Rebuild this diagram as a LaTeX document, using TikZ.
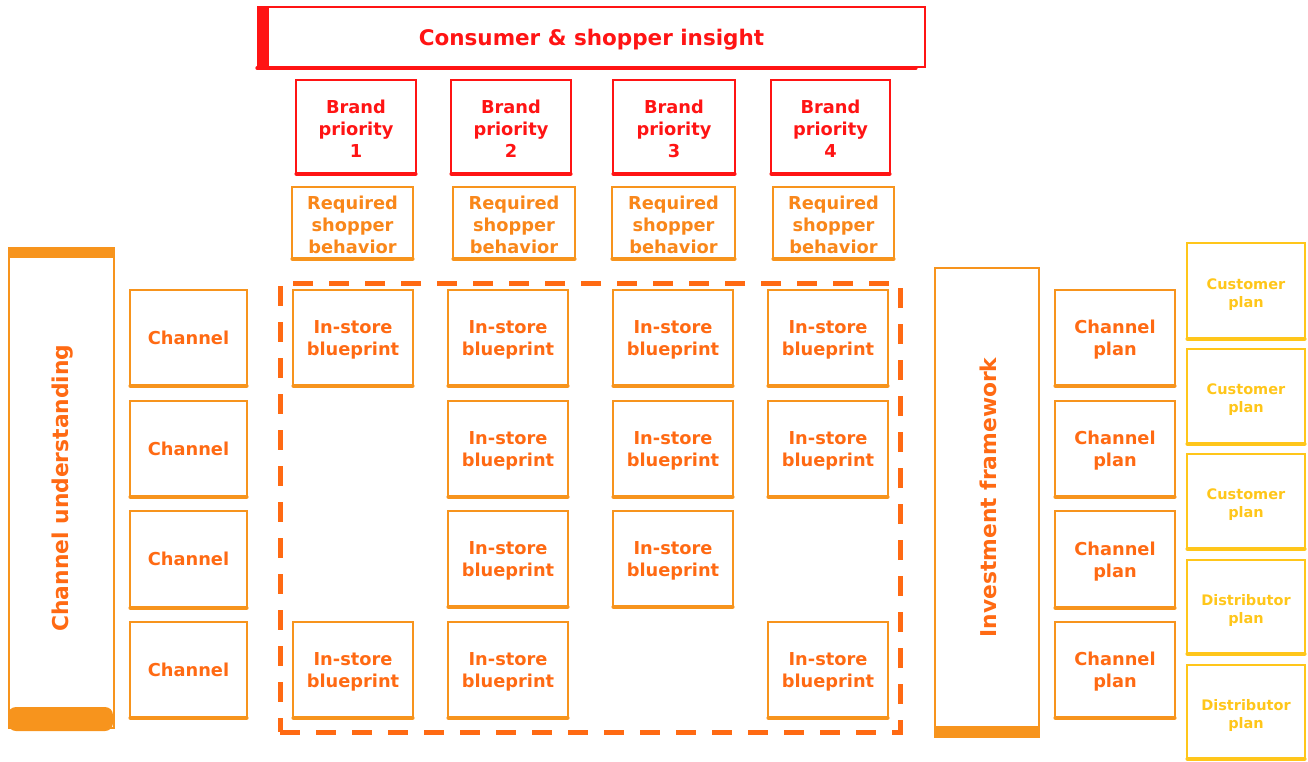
\documentclass[tikz,border=0pt]{standalone}
\usepackage{fontspec}
\setmainfont{DejaVu Sans}
\definecolor{myred}{HTML}{FF1414}
\definecolor{myorange}{HTML}{F7941D}
\definecolor{mytext}{HTML}{FF6A13}
\definecolor{mydash}{HTML}{FF6A13}
\definecolor{myyellow}{HTML}{FFC61A}
\tikzset{
  sbox/.style={draw, line width=1.6pt, inner sep=0pt, align=center,
    font=\bfseries\fontsize{17.8}{22}\selectfont},
  redbox/.style={sbox, draw=myred, text=myred},
  orbox/.style={sbox, draw=myorange, text=mytext},
  shbox/.style={sbox, draw=myorange, text=myorange!70!mytext},
  yebox/.style={sbox, draw=myyellow, text=myyellow, font=\bfseries\fontsize{14.5}{18}\selectfont},
  botline/.style={line width=3.5pt, line cap=round},
  bigtext/.style={font=\bfseries\fontsize{21.8}{26}\selectfont, text=mytext}
}
% name, style, colour, x1, y1, x2, y2, text, text shift
\newcommand\mybox[9]{%
  \node[#2, minimum width={(#6-#4)*1pt}, minimum height={(#7-#5)*1pt}] (#1) at ({(#4+#6)/2},{(#5+#7)/2}) {};
  \node[#2, draw=none] (#1t) at ([yshift=-#9pt]#1.center) {#8};
  \draw[botline, #3] ([xshift=1pt]#1.south west) -- ([xshift=-1pt]#1.south east);
}
\begin{document}
\begin{tikzpicture}[x=1pt,y=-1pt]
\useasboundingbox (0,0) rectangle (1308,762);

% top banner
\node[draw=myred, line width=1.8pt, minimum width=667pt, minimum height=60pt, inner sep=0pt] (insight) at (591.5,37) {};
\node[text=myred, font=\bfseries\fontsize{21.5}{26}\selectfont] (insightt) at ([yshift=-3pt]insight.center) {Consumer \& shopper insight};
\fill[myred] (insight.north west) rectangle ([xshift=12pt]insight.south west);
\draw[botline, myred] (insight.south west) -- ([xshift=-10pt]insight.south east);

% brand priorities and required shopper behaviour
\foreach \i/\xa/\xb in {1/296/416, 2/451/571, 3/613/735, 4/771/890}{
  \mybox{bp\i}{redbox}{myred}{\xa}{80}{\xb}{173}{Brand\\priority\\\i}{2.5}
}
\foreach \i/\xa/\xb in {1/292/413, 2/453/575, 3/612/735, 4/773/894}{
  \mybox{rs\i}{shbox}{myorange}{\xa}{187}{\xb}{258}{Required\\shopper\\behavior}{2.5}
}

% dashed frame
\node[draw=mydash, line width=5pt, dash pattern=on 20pt off 16pt, minimum width=620pt, minimum height=449pt, inner sep=0pt] (frame) at (590,507.5) {};

% channel understanding bar
\node[draw=myorange, line width=2pt, minimum width=105pt, minimum height=480pt, inner sep=0pt] (cu) at (61.5,488) {};
\fill[myorange] (cu.north west) rectangle ([yshift=-11pt]cu.north east);
\fill[myorange, rounded corners=8pt] ([yshift=22pt]cu.south west) rectangle ([xshift=-2pt,yshift=-2pt]cu.south east);
\node[bigtext, rotate=90] (cut) at ([xshift=1pt]cu.center) {Channel understanding};

% investment framework bar
\node[draw=myorange, line width=2pt, minimum width=104pt, minimum height=469pt, inner sep=0pt] (inv) at (987,502.5) {};
\fill[myorange] ([yshift=12pt]inv.south west) rectangle (inv.south east);
\node[bigtext, rotate=90] (invt) at ([xshift=1pt,yshift=5pt]inv.center) {Investment framework};

% channels, channel plans
\foreach \r/\ya/\yb in {1/290/385, 2/401/496, 3/511/607, 4/622/717}{
  \mybox{ch\r}{orbox}{myorange}{130}{\ya}{247}{\yb}{Channel}{0}
  \mybox{cp\r}{orbox}{myorange}{1055}{\ya}{1175}{\yb}{Channel\\plan}{2.5}
}

% in-store blueprints
\foreach \n/\xa/\ya in {11/293/290, 12/448/290, 13/613/290, 14/768/290,
                        22/448/401, 23/613/401, 24/768/401,
                        32/448/511, 33/613/511,
                        41/293/622, 42/448/622, 44/768/622}{
  \pgfmathsetmacro\xb{\xa+120}
  \pgfmathsetmacro\yb{\ya+95}
  \mybox{isb\n}{orbox}{myorange}{\xa}{\ya}{\xb}{\yb}{In-store\\blueprint}{2.5}
}

% customer / distributor plans
\foreach \n/\ya/\yb/\t in {1/243/338/Customer, 2/349/443/Customer, 3/454/548/Customer, 4/560/653/Distributor, 5/665/758/Distributor}{
  \mybox{pl\n}{yebox}{myyellow}{1187}{\ya}{1305}{\yb}{\t\\plan}{4}
}
\end{tikzpicture}
\end{document}
